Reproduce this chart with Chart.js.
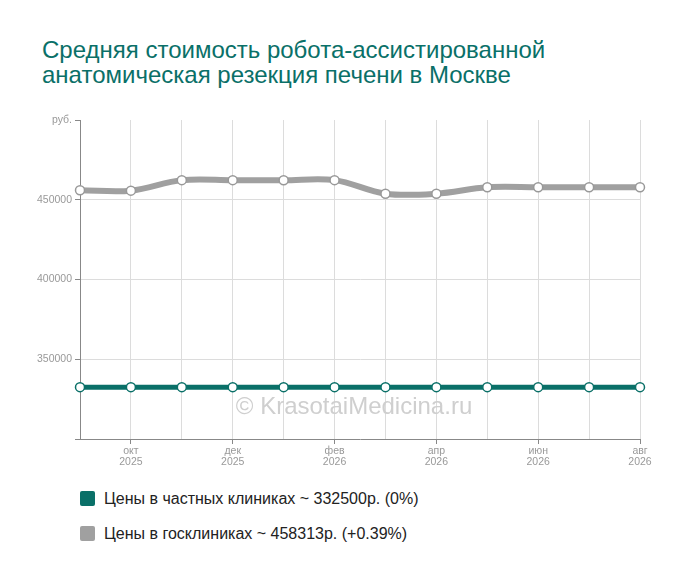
<!DOCTYPE html>
<html>
<head>
<meta charset="utf-8">
<script src="https://cdn.jsdelivr.net/npm/chart.js@4"></script>
<style>
  body { margin: 0; background: #fff; font-family: "Liberation Sans", Arial, sans-serif; }
  #wrap { position: relative; width: 700px; height: 582px; }
  #title { position: absolute; left: 42px; top: 37px; font-size: 24px; line-height: 25px; color: #0a7068; }
  #box { position: absolute; left: 0; top: 101px; width: 700px; height: 380px; }
  #legend { position: absolute; left: 80px; top: 486px; font-size: 16px; color: #222; }
  .item { height: 25px; line-height: 25px; margin-bottom: 10px; }
  .sq { display: inline-block; width: 15px; height: 15px; border-radius: 2px; vertical-align: -2px; margin-right: 9px; }
</style>
</head>
<body>
<div id="wrap">
  <div id="title">Средняя стоимость робота-ассистированной<br>анатомическая резекция печени в Москве</div>
  <div id="box"><canvas id="myChart" width="700" height="380"></canvas></div>
  <div id="legend"></div>
</div>
<script>
// месяцы по оси X
var months = ['сен','окт','ноя','дек','янв','фев','мар','апр','май','июн','июл','авг']
var years = ['2025','2025','2025','2025','2026','2026','2026','2026','2026','2026','2026','2026']
// цены
var privatePrices = [332500,332500,332500,332500,332500,332500,332500,332500,332500,332500,332500,332500]
var govPrices = [456000,455700,462300,462300,462200,462300,453800,453800,457800,457800,457800,457800]
var seriesNames = ['Цены в частных клиниках ~ 332500р. (0%)', 'Цены в госклиниках ~ 458313р. (+0.39%)']
var seriesColors = ['#0a7068', '#a0a0a0']
var yTicks = [300000,350000,400000,450000,500000]
var yUnit = 'руб.'
var watermark = '© KrasotaiMedicina.ru'

var char

// легенда
for (var i = 0; i <= seriesNames.length - 1; i++) {
    const div = document.createElement('div')
    div.className = 'item'
    div.innerHTML = '<span class="sq" style="background:' + seriesColors[i] + '"></span>' + seriesNames[i]
    document.getElementById('legend').appendChild(div)
}

const wm = {
    id: 'wm',
    beforeDatasetsDraw(chart) {
        const c = chart.ctx
        const a = chart.chartArea
        c.save()
        c.font = '24px "Liberation Sans", Arial, sans-serif'
        c.fillStyle = '#cfcfcf'
        c.textAlign = 'center'
        c.textBaseline = 'middle'
        c.fillText(watermark, (a.left + a.right) / 2 - 6, 306)
        c.restore()
    }
}

function Charte() {
    const ctx = document.getElementById('myChart')
    char = new Chart(ctx, {
        type: 'line',
        data: {
            labels: months,
            datasets: [{
                label: seriesNames[0],
                data: privatePrices,
                borderColor: seriesColors[0],
                borderWidth: 5,
                pointBackgroundColor: '#fff',
                pointBorderColor: seriesColors[0],
                pointBorderWidth: 1.5,
                pointRadius: 4.5,
                tension: 0.35
            }, {
                label: seriesNames[1],
                data: govPrices,
                borderColor: seriesColors[1],
                borderWidth: 6,
                pointBackgroundColor: '#fff',
                pointBorderColor: '#999',
                pointBorderWidth: 1.5,
                pointRadius: 4.5,
                tension: 0.35
            }]
        },
        options: {
            responsive: false,
            animation: false,
            layout: { padding: { top: 19, right: 60, left: 0, bottom: 0 } },
            plugins: {
                legend: { display: false },
                tooltip: { enabled: false }
            },
            scales: {
                x: {
                    offset: false,
                    border: { color: '#888', width: 1 },
                    grid: {
                        color: '#dcdcdc',
                        tickLength: 5,
                        tickColor: c => (c.index % 2 == 1 ? '#888' : 'rgba(0,0,0,0)')
                    },
                    ticks: {
                        autoSkip: false,
                        maxRotation: 0,
                        padding: 2,
                        color: '#999',
                        font: { size: 10.5, family: '"Liberation Sans", Arial, sans-serif', lineHeight: 1.05 },
                        callback: function (v, i) {
                            if (i % 2 == 1) return [months[i], years[i]]
                            return ''
                        }
                    },
                    afterFit: s => { s.height = 42 }
                },
                y: {
                    min: yTicks[0],
                    max: yTicks[yTicks.length - 1],
                    border: { color: '#888', width: 1 },
                    afterBuildTicks: s => { s.ticks = yTicks.map(v => ({ value: v })) },
                    grid: {
                        color: c => (c.index == 0 || c.index == yTicks.length - 1 ? 'rgba(0,0,0,0)' : '#dcdcdc'),
                        tickLength: 5,
                        tickColor: '#888'
                    },
                    ticks: {
                        padding: 3,
                        color: '#999',
                        font: { size: 10.5, family: '"Liberation Sans", Arial, sans-serif' },
                        callback: function (v, i) {
                            if (i == 0) return ''
                            if (i == yTicks.length - 1) return yUnit
                            return v
                        }
                    },
                    afterFit: s => { s.width = 80 }
                }
            }
        },
        plugins: [wm]
    })
}
Charte()
</script>
</body>
</html>
